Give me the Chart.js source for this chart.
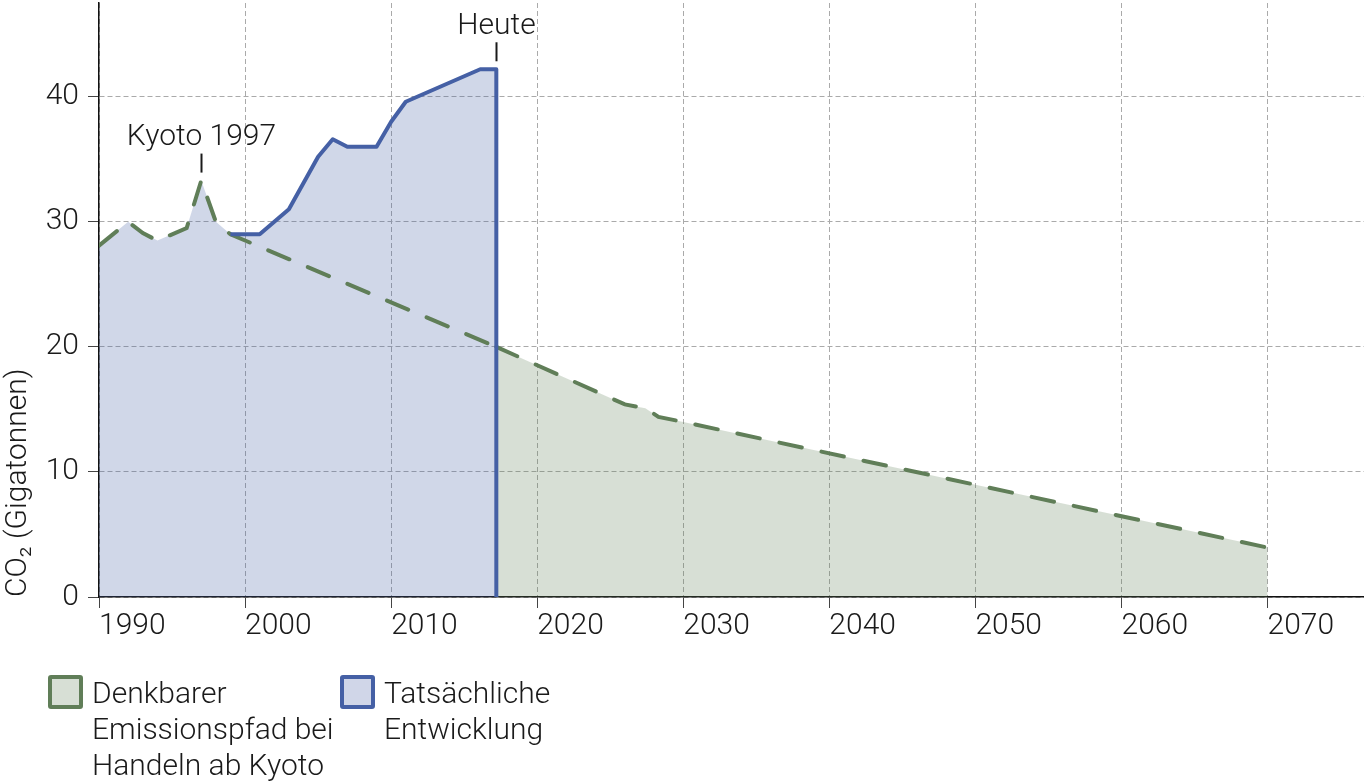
<!DOCTYPE html>
<html>
<head>
<meta charset="utf-8">
<script src="https://cdn.jsdelivr.net/npm/chart.js@4.4.1/dist/chart.umd.min.js"></script>
<style>
  html, body { margin: 0; padding: 0; background: #fff; }
  body { width: 1364px; height: 782px; position: relative; overflow: hidden;
         font-family: Roboto, "Noto Sans", sans-serif; font-weight: 300; color: #1a1a1a; }
  #wrap { position: absolute; left: 0; top: 0; width: 1364px; height: 782px; }
  .legend-item { position: absolute; top: 675px; }
  .legend-box { position: absolute; left: 0; top: 0; width: 27px; height: 26px;
                border: 4px solid; border-radius: 3px; }
  .legend-text { position: absolute; top: 0px; font-size: 30px; line-height: 36px; white-space: nowrap; }
</style>
</head>
<body>
<div id="wrap"><canvas id="co2Chart" width="1364" height="782"></canvas></div>

<div class="legend-item" style="left:48px">
  <div class="legend-box" style="border-color:#607e58;background:#d7dfd5"></div>
  <div class="legend-text" style="left:44px">Denkbarer<br>Emissionspfad bei<br>Handeln ab Kyoto</div>
</div>
<div class="legend-item" style="left:340px">
  <div class="legend-box" style="border-color:#4560a5;background:#d0d6e8"></div>
  <div class="legend-text" style="left:44px">Tatsächliche<br>Entwicklung</div>
</div>

<script>
// years / values
const pathYears  = [1990, 1992, 1993, 1994, 1996, 1997, 1998, 1999, 2017.2, 2026, 2027.4, 2028.3, 2030, 2070];
const pathValues = [28.1, 30.0, 29.1, 28.5, 29.5, 33.3, 30.0, 29.0, 20.0, 15.4, 15.1, 14.4, 14.0, 3.95];

const actualYears  = [1990, 1992, 1993, 1994, 1996, 1997, 1998, 1999, 2001, 2003, 2005, 2006, 2007, 2009, 2010, 2011, 2016.1, 2017.2, 2017.2];
const actualValues = [28.1, 30.0, 29.1, 28.5, 29.5, 33.3, 30.0, 29.0, 29.0, 31.0, 35.2, 36.6, 36.0, 36.0, 38.0, 39.6, 42.2, 42.2, 0];

const xTicks = [1990, 2000, 2010, 2020, 2030, 2040, 2050, 2060, 2070];
const yTicks = [0, 10, 20, 30, 40];

const todayYear = 2017.2;
const actualStartYear = 1999;   // blue line only drawn from here on

const notes = [
    { text: 'Kyoto 1997', x: 1997, y: 33.3 },
    { text: 'Heute', x: 2017.2, y: 42.2 }
];

const GREEN = '#607e58';
const BLUE = '#4560a5';
const FONT = 'Roboto, "Noto Sans", sans-serif';

function toPoints(xs, ys) {
    return xs.map((x, i) => ({ x: x, y: ys[i] }));
}

// small labels with a tick mark above a point
const notePlugin = {
    id: 'notes',
    afterDatasetsDraw(chart) {
        const ctx = chart.ctx;
        const xs = chart.scales.x, ys = chart.scales.y;
        ctx.save();
        notes.forEach(n => {
            const px = Math.round(xs.getPixelForValue(n.x)) + 0.5;
            const py = ys.getPixelForValue(n.y);
            ctx.strokeStyle = '#1a1a1a';
            ctx.lineWidth = 2;
            ctx.beginPath();
            ctx.moveTo(px, py - 8);
            ctx.lineTo(px, py - 27);
            ctx.stroke();
            ctx.font = '300 30px ' + FONT;
            ctx.fillStyle = '#1a1a1a';
            ctx.textAlign = 'center';
            ctx.textBaseline = 'middle';
            ctx.fillText(n.text, px, py - 43);
        });
        ctx.restore();
    }
};

function noPad(scale) {
    scale.paddingTop = 0;
    scale.paddingBottom = 0;
    scale.paddingLeft = 0;
    scale.paddingRight = 0;
}

document.addEventListener("DOMContentLoaded", function() {
    const ctx = document.getElementById('co2Chart').getContext('2d');
    const actualPoints = toPoints(actualYears, actualValues);

    new Chart(ctx, {
        type: 'line',
        data: {
            datasets: [{
                label: 'Tatsächliche Entwicklung',
                data: actualPoints.filter(p => p.x >= actualStartYear),
                borderColor: BLUE,
                borderWidth: 4,
                borderJoinStyle: 'round',
                fill: false,
                pointRadius: 0,
                tension: 0
            }, {
                label: 'Denkbarer Emissionspfad bei Handeln ab Kyoto',
                data: toPoints(pathYears, pathValues),
                borderColor: GREEN,
                borderWidth: 4,
                borderDash: [23, 20],
                borderCapStyle: 'round',
                backgroundColor: 'rgba(96,126,88,0.25)',
                fill: 'origin',
                pointRadius: 0,
                tension: 0,
                segment: {
                    backgroundColor: c => c.p1.parsed.x <= todayYear ? 'rgba(0,0,0,0)' : 'rgba(96,126,88,0.25)'
                }
            }, {
                label: 'Tatsächliche Entwicklung (Fläche)',
                data: actualPoints,
                borderWidth: 0,
                borderColor: 'rgba(0,0,0,0)',
                backgroundColor: 'rgba(69,96,165,0.25)',
                fill: 'origin',
                pointRadius: 0,
                tension: 0
            }]
        },
        options: {
            responsive: false,
            animation: false,
            layout: { padding: { top: 3, right: 0, left: 0, bottom: 0 } },
            plugins: {
                legend: { display: false },
                tooltip: { enabled: false },
                filler: { drawTime: 'beforeDatasetsDraw' }
            },
            scales: {
                x: {
                    type: 'linear',
                    min: 1990,
                    max: 2076.6,
                    afterBuildTicks: scale => { scale.ticks = xTicks.map(v => ({ value: v })); },
                    afterFit: scale => { scale.height = 185; noPad(scale); },
                    grid: {
                        color: '#aaaaaa',
                        lineWidth: 1,
                        tickLength: 11,
                        tickColor: '#444',
                        tickWidth: 1
                    },
                    border: { display: true, color: '#111', width: 1.5, dash: [5, 3] },
                    ticks: {
                        align: 'start',
                        padding: 0,
                        color: '#1a1a1a',
                        font: { family: FONT, size: 30, weight: '300' },
                        callback: v => String(v)
                    }
                },
                y: {
                    min: 0,
                    max: 47.5,
                    afterBuildTicks: scale => { scale.ticks = yTicks.map(v => ({ value: v })); },
                    afterFit: scale => { scale.width = 99; noPad(scale); },
                    grid: {
                        color: '#aaaaaa',
                        lineWidth: 1,
                        tickLength: 11,
                        tickColor: '#444',
                        tickWidth: 1
                    },
                    border: { display: true, color: '#111', width: 1.5, dash: [5, 3] },
                    ticks: {
                        padding: 9,
                        color: '#1a1a1a',
                        font: { family: FONT, size: 30, weight: '300' }
                    },
                    title: {
                        display: true,
                        text: 'CO₂ (Gigatonnen)',
                        align: 'start',
                        color: '#1a1a1a',
                        padding: { top: 0, bottom: 0 },
                        font: { family: FONT, size: 30, weight: '300' }
                    }
                }
            }
        },
        plugins: [notePlugin]
    });
});
</script>
</body>
</html>
